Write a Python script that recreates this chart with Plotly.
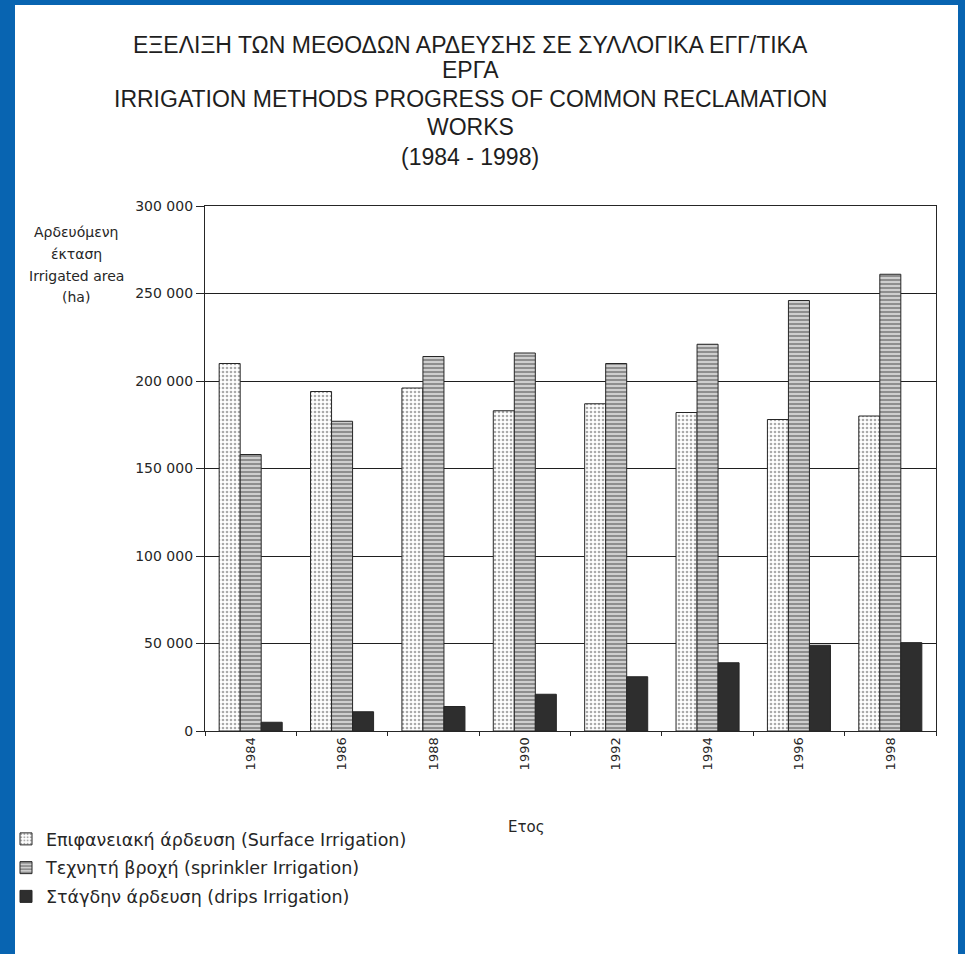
import plotly.graph_objects as go

# ---- data -------------------------------------------------------------
years = ["1984", "1986", "1988", "1990", "1992", "1994", "1996", "1998"]
surface = [210000, 194000, 196000, 183000, 187000, 182000, 178000, 180000]
sprinkler = [158000, 177000, 214000, 216000, 210000, 221000, 246000, 261000]
drip = [5000, 11000, 14000, 21000, 31000, 39000, 49000, 50500]

series_names = [
    "Επιφανειακή άρδευση (Surface Irrigation)",
    "Τεχνητή βροχή (sprinkler Irrigation)",
    "Στάγδην άρδευση (drips Irrigation)",
]
y_tick_values = [0, 50000, 100000, 150000, 200000, 250000, 300000]
y_tick_labels = ["0", "50 000", "100 000", "150 000", "200 000", "250 000", "300 000"]

title_lines = [
    "ΕΞΕΛΙΞΗ ΤΩΝ ΜΕΘΟΔΩΝ ΑΡΔΕΥΣΗΣ ΣΕ ΣΥΛΛΟΓΙΚΑ ΕΓΓ/ΤΙΚΑ",
    "ΕΡΓΑ",
    "IRRIGATION METHODS PROGRESS OF COMMON RECLAMATION",
    "WORKS",
    "(1984 - 1998)",
]
y_title_lines = ["Αρδευόμενη", "έκταση", "Irrigated area", "(ha)"]
x_title = "Ετος"

# ---- page geometry (pixels) ------------------------------------------
W, H = 965, 954
L, R, T, B = 205, 936, 206, 731          # plot area edges
pw, ph = R - L, B - T

def px_x(x):
    return (x - L) / pw

def px_y(y):
    return (B - y) / ph

INK = "#262626"
TITLE_FONT = "Liberation Sans, Arial, sans-serif"
BODY_FONT = "DejaVu Sans, Verdana, sans-serif"

fig = go.Figure()

fig.add_trace(go.Bar(
    x=years, y=surface, name=series_names[0], legendgroup="s",
    marker=dict(color="white", line=dict(color=INK, width=1),
                pattern=dict(shape=".", fgcolor="#555", size=4, solidity=0.35)),
))
fig.add_trace(go.Bar(
    x=years, y=sprinkler, name=series_names[1], legendgroup="p",
    marker=dict(color="white", line=dict(color=INK, width=1),
                pattern=dict(shape="-", fgcolor="#1e1e1e", size=4, solidity=0.72)),
))
fig.add_trace(go.Bar(
    x=years, y=drip, name=series_names[2], legendgroup="d",
    marker=dict(color="#2e2e2e", line=dict(color=INK, width=1)),
))

annotations = []
title_y = [45, 70, 99, 127, 157]
for text, yy in zip(title_lines, title_y):
    annotations.append(dict(
        text=text, x=px_x(470), y=px_y(yy), xref="paper", yref="paper",
        xanchor="center", yanchor="middle", showarrow=False,
        font=dict(family=TITLE_FONT, size=23, color="#1e1e1e"),
    ))

y_title_y = [232, 254, 276, 297]
for text, yy in zip(y_title_lines, y_title_y):
    annotations.append(dict(
        text=text, x=px_x(76), y=px_y(yy), xref="paper", yref="paper",
        xanchor="center", yanchor="middle", showarrow=False,
        font=dict(family=BODY_FONT, size=14, color=INK),
    ))

annotations.append(dict(
    text=x_title, x=px_x(526), y=px_y(827), xref="paper", yref="paper",
    xanchor="center", yanchor="middle", showarrow=False,
    font=dict(family=BODY_FONT, size=15, color=INK),
))

shapes = [
    # white sheet inside the blue frame
    dict(type="rect", xref="paper", yref="paper", layer="below",
         x0=px_x(15), x1=px_x(958), y0=px_y(954), y1=px_y(5),
         fillcolor="white", line=dict(width=0)),
]

fig.update_layout(
    width=W, height=H,
    margin=dict(l=L, r=W - R, t=T, b=H - B, autoexpand=False),
    paper_bgcolor="#0864b1",
    plot_bgcolor="white",
    barmode="group",
    bargap=0.31,
    bargroupgap=0.0,
    showlegend=True,
    legend=dict(
        x=px_x(6), y=px_y(821), xanchor="left", yanchor="top",
        xref="paper", yref="paper",
        font=dict(family=BODY_FONT, size=17.5, color=INK),
        bgcolor="rgba(0,0,0,0)", itemwidth=30,
        tracegroupgap=3,
    ),
    annotations=annotations,
    shapes=shapes,
    font=dict(family=BODY_FONT, color=INK),
)

fig.update_xaxes(
    type="category", tickangle=-90, showline=True, linecolor=INK, linewidth=1.2,
    mirror=True, ticks="outside", tickson="boundaries", ticklen=4,
    tickcolor=INK, tickfont=dict(family=BODY_FONT, size=13, color=INK),
    showgrid=False, automargin=False,
)
fig.update_yaxes(
    range=[0, 300000], tickvals=y_tick_values, ticktext=y_tick_labels,
    showline=True, linecolor=INK, linewidth=1.2, mirror=True,
    ticks="outside", ticklen=8, tickcolor=INK,
    showgrid=True, gridcolor="#1f1f1f", gridwidth=1.4,
    zeroline=False, automargin=False,
    tickfont=dict(family=BODY_FONT, size=14, color=INK),
)

fig.write_html("out.html")
